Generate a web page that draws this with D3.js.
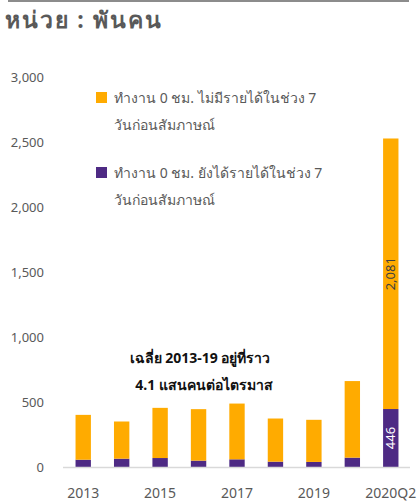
<!DOCTYPE html>
<html><head><meta charset="utf-8">
<script src="https://cdn.jsdelivr.net/npm/d3@7"></script>
<style>
body{margin:0;background:#fff;}
text{font-family:Tahoma,"Noto Sans","DejaVu Sans",sans-serif;}
</style></head>
<body><svg id="c" width="417" height="501"></svg>
<script>
const categories = ["2013","2014","2015","2016","2017","2018","2019","2020Q1","2020Q2"];
const tickLabels = ["2013","","2015","","2017","","2019","","2020Q2"];
const paidValues = [56,64,69,49,59,41,39,72,446];
const unpaidValues = [345,286,386,396,429,332,324,589,2081];
const yTicks = [0,500,1000,1500,2000,2500,3000];
const seriesNames = ["ทำงาน 0 ชม. ไม่มีรายได้ในช่วง 7","ทำงาน 0 ชม. ยังได้รายได้ในช่วง 7"];
const legendLine2 = "วันก่อนสัมภาษณ์";
const colors = {unpaid:"#FFAB00", paid:"#4E2A84"};

const svg = d3.select("#c");
svg.append("line").attr("x1",8).attr("x2",409).attr("y1",1).attr("y2",1).attr("stroke","#8c8c8c").attr("stroke-width",2);
svg.append("text").attr("x",5).attr("y",28).attr("font-size",23).attr("font-weight","bold").attr("fill","#595959")
  .attr("textLength",156).attr("lengthAdjust","spacing").text("หน่วย : พันคน");

const x = d3.scaleBand().domain(categories).range([64,410]).paddingInner(0.6).paddingOuter(0.3);
const y = d3.scaleLinear().domain([0,3000]).range([467,77]);

// y axis labels
svg.append("g").selectAll("text").data(yTicks).join("text")
  .attr("x",44).attr("y",d=>y(d)).attr("dy","0.35em").attr("text-anchor","end")
  .attr("font-size",13).attr("fill","#595959").text(d=>d3.format(",")(d));

// bars
const g = svg.append("g");
categories.forEach((c,i)=>{
  g.append("rect").attr("x",x(c)).attr("width",x.bandwidth())
    .attr("y",y(paidValues[i])).attr("height",y(0)-y(paidValues[i])).attr("fill",colors.paid);
  g.append("rect").attr("x",x(c)).attr("width",x.bandwidth())
    .attr("y",y(paidValues[i]+unpaidValues[i])).attr("height",y(paidValues[i])-y(paidValues[i]+unpaidValues[i])).attr("fill",colors.unpaid);
});
// baseline
svg.append("line").attr("x1",63).attr("x2",410).attr("y1",y(0)+0.5).attr("y2",y(0)+0.5).attr("stroke","#d9d9d9").attr("stroke-width",1.5);

// x labels
svg.append("g").selectAll("text").data(categories).join("text")
  .attr("x",d=>x(d)+x.bandwidth()/2).attr("y",493).attr("dy","0.35em").attr("text-anchor","middle")
  .attr("font-size",14).attr("fill","#595959").text((d,i)=>tickLabels[i]);

// data labels on last bar
const last = categories.length-1, lc = categories[last], cx = x(lc)+x.bandwidth()/2;
const ym1 = (y(paidValues[last]) + y(paidValues[last]+unpaidValues[last]))/2;
svg.append("text").attr("transform",`translate(${cx},${ym1}) rotate(-90)`).attr("text-anchor","middle").attr("dy","0.35em")
  .attr("font-size",13).attr("fill","#404040").text(d3.format(",")(unpaidValues[last]));
const ym2 = (y(0)+y(paidValues[last]))/2;
svg.append("text").attr("transform",`translate(${cx},${ym2}) rotate(-90)`).attr("text-anchor","middle").attr("dy","0.35em")
  .attr("font-size",13).attr("fill","#ffffff").text(d3.format(",")(paidValues[last]));

// legend
const leg = [{c:colors.unpaid,t:seriesNames[0],y:98},{c:colors.paid,t:seriesNames[1],y:173}];
leg.forEach(l=>{
  svg.append("rect").attr("x",96).attr("y",l.y-6).attr("width",11).attr("height",11).attr("fill",l.c);
  svg.append("text").attr("x",114).attr("y",l.y).attr("dy","0.35em").attr("font-size",14).attr("fill","#595959").text(l.t);
  svg.append("text").attr("x",114).attr("y",l.y+27).attr("dy","0.35em").attr("font-size",14).attr("fill","#595959").text(legendLine2);
});

// annotation
svg.append("text").attr("x",200).attr("y",358).attr("dy","0.35em").attr("text-anchor","middle").attr("font-size",14).attr("font-weight","bold").attr("fill","#111").text("เฉลี่ย 2013-19 อยู่ที่ราว");
svg.append("text").attr("x",204).attr("y",385).attr("dy","0.35em").attr("text-anchor","middle").attr("font-size",14).attr("font-weight","bold").attr("fill","#111").text("4.1 แสนคนต่อไตรมาส");
</script></body></html>
